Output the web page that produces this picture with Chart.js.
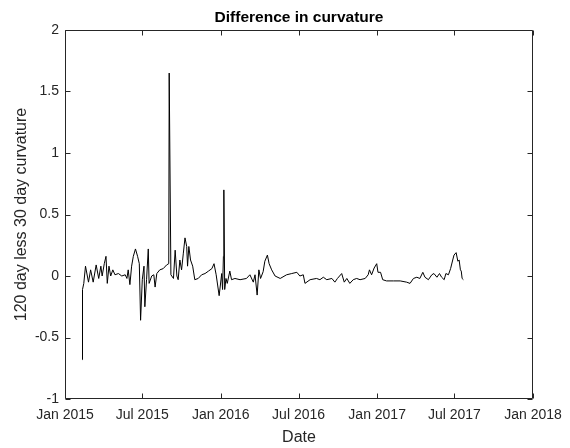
<!DOCTYPE html>
<html>
<head>
<meta charset="utf-8">
<script src="https://cdn.jsdelivr.net/npm/chart.js@4/dist/chart.umd.min.js"></script>
<style>
  html, body { margin: 0; padding: 0; background: #ffffff; }
  #wrap { width: 570px; height: 448px; }
</style>
</head>
<body>
<div id="wrap"><canvas id="c" width="570" height="448"></canvas></div>
<script>
// ---- data ----
// x: days since 1 Jan 2015
const sampleDays = [
  40, 41, 44, 48, 55, 60, 66, 73, 79, 84, 87, 92, 96, 99, 103, 107, 112, 117, 125, 133,
  141, 145, 148, 152, 156, 160, 165, 170, 174, 177, 181, 185, 187, 191, 195, 197, 203, 208, 211, 215,
  222, 230, 238, 243, 244, 248, 254, 258, 262, 265, 269, 273, 277, 281, 285, 287, 290, 294, 299, 304,
  312, 320, 328, 336, 344, 349, 354, 361, 367, 369, 371, 372, 374, 377, 380, 386, 390, 398, 410, 425,
  433, 441, 445, 450, 454, 458, 464, 468, 474, 478, 484, 492, 504, 519, 531, 543, 550, 558, 562, 574,
  589, 597, 605, 613, 625, 632, 638, 648, 654, 660, 667, 675, 683, 691, 703, 710, 713, 718, 724, 730,
  733, 739, 744, 753, 769, 785, 800, 808, 816, 824, 831, 838, 843, 851, 859, 864, 871, 877, 882, 888,
  892, 898, 903, 908, 911, 916, 920, 923, 926, 928, 930, 933
];
const curvatureDiff = [
  -0.68, -0.11, -0.06, 0.08, -0.05, 0.05, -0.05, 0.09, -0.02, 0.08, 0.00, 0.10, 0.16, -0.06, 0.08, 0.00, 0.05, 0.01, 0.02, 0.00,
  0.01, -0.02, 0.05, -0.07, 0.08, 0.16, 0.22, 0.16, 0.10, -0.36, -0.03, 0.08, -0.25, -0.03, 0.22, -0.06, 0.00, 0.01, -0.09, 0.02,
  0.05, 0.06, 0.09, 0.10, 1.65, 0.01, -0.02, 0.21, 0.00, -0.03, 0.13, 0.05, 0.18, 0.31, 0.24, 0.08, 0.24, 0.13, 0.08, -0.03,
  -0.02, 0.01, 0.02, 0.04, 0.06, 0.10, 0.01, -0.16, 0.02, -0.11, 0.16, 0.70, -0.11, -0.02, -0.06, 0.04, -0.03, -0.02, -0.03, -0.02,
  0.01, -0.05, 0.01, -0.155, 0.05, -0.02, 0.035, 0.12, 0.17, 0.10, 0.05, 0.00, -0.02, 0.01, 0.02, 0.03, 0.00, 0.01, -0.06, -0.03,
  -0.02, -0.03, -0.01, -0.03, -0.02, -0.05, -0.02, 0.02, -0.05, -0.02, -0.06, -0.03, -0.02, -0.03, -0.02, 0.01, 0.05, 0.01, 0.065, 0.10,
  0.03, 0.03, -0.03, -0.04, -0.04, -0.04, -0.05, -0.06, -0.02, -0.01, -0.02, 0.03, -0.01, -0.03, 0.01, 0.02, -0.01, 0.02, -0.01, -0.03,
  0.02, 0.01, 0.06, 0.13, 0.17, 0.19, 0.12, 0.13, 0.05, 0.04, -0.02, -0.03
];
const tickDates = ["2015-01-01", "2015-07-01", "2016-01-01", "2016-07-01", "2017-01-01", "2017-07-01", "2018-01-01"];
const tickLabels = ["Jan 2015", "Jul 2015", "Jan 2016", "Jul 2016", "Jan 2017", "Jul 2017", "Jan 2018"];
const yTickValues = [-1, -0.5, 0, 0.5, 1, 1.5, 2];

const chartTitle = "Difference in curvature";
const xTitle = "Date";
const yTitle = "120 day less 30 day curvature";

// ---- helpers ----
const DAY = 86400000;
const ORIGIN = Date.UTC(2015, 0, 1);
function dayOf(s) {
  const p = s.split("-").map(Number);
  return (Date.UTC(p[0], p[1] - 1, p[2]) - ORIGIN) / DAY;
}
const tickDays = tickDates.map(dayOf);
const points = sampleDays.map((d, i) => ({ x: d, y: curvatureDiff[i] }));

const AX = '#262626';
const FONT = "'Liberation Sans', Arial, Helvetica, sans-serif";
Chart.defaults.font.family = FONT;
Chart.defaults.color = AX;

// box + inward tick marks on all four sides (MATLAB style)
const boxPlugin = {
  id: 'matlabBox',
  afterDatasetsDraw(chart) {
    const { ctx, chartArea: a, scales } = chart;
    const L = Math.round(a.left) + 0.5, R = Math.round(a.right) - 0.5;
    const T = Math.round(a.top) + 0.5, B = Math.round(a.bottom) - 0.5;
    const tl = 5;
    ctx.save();
    ctx.strokeStyle = AX;
    ctx.lineWidth = 1;
    ctx.beginPath();
    ctx.rect(L, T, R - L, B - T);
    scales.x.ticks.forEach(t => {
      const px = Math.round(scales.x.getPixelForValue(t.value)) + 0.5;
      ctx.moveTo(px, B); ctx.lineTo(px, B - tl);
      ctx.moveTo(px, T); ctx.lineTo(px, T + tl);
    });
    scales.y.ticks.forEach(t => {
      const py = Math.round(scales.y.getPixelForValue(t.value)) + 0.5;
      ctx.moveTo(L, py); ctx.lineTo(L + tl, py);
      ctx.moveTo(R, py); ctx.lineTo(R - tl, py);
    });
    ctx.stroke();
    ctx.restore();
  }
};

new Chart(document.getElementById('c'), {
  type: 'line',
  data: {
    datasets: [{
      data: points,
      yAxisID: 'y',
      borderColor: '#000000',
      borderWidth: 1,
      pointRadius: 0,
      tension: 0,
      fill: false
    }]
  },
  options: {
    responsive: false,
    animation: false,
    layout: { padding: { left: 28, right: 0, top: 0, bottom: 0 } },
    plugins: {
      legend: { display: false },
      tooltip: { enabled: false },
      title: {
        display: true,
        text: chartTitle,
        color: '#000000',
        font: { family: FONT, size: 15.5, weight: 'bold' },
        padding: { top: 8, bottom: 3.4 }
      }
    },
    scales: {
      x: {
        type: 'linear',
        min: tickDays[0],
        max: tickDays[tickDays.length - 1],
        grid: { display: false, drawTicks: false },
        border: { display: false },
        afterBuildTicks(scale) { scale.ticks = tickDays.map(v => ({ value: v })); },
        afterFit(scale) { scale.height = 49; },
        ticks: {
          autoSkip: false, maxRotation: 0, minRotation: 0,
          padding: 7.5,
          color: AX,
          font: { family: FONT, size: 14 },
          callback: (v, i) => tickLabels[i]
        },
        title: {
          display: true, text: xTitle, color: AX,
          font: { family: FONT, size: 16 },
          padding: { top: 0, bottom: 1 }
        }
      },
      y: {
        type: 'linear',
        position: 'left',
        min: -1, max: 2,
        grid: { display: false, drawTicks: false },
        border: { display: false },
        afterBuildTicks(scale) { scale.ticks = yTickValues.map(v => ({ value: v })); },
        afterFit(scale) { scale.width = 37; },
        ticks: {
          padding: 6,
          color: AX,
          font: { family: FONT, size: 14 },
          callback: v => String(v)
        },
        title: {
          display: true, text: yTitle, color: AX,
          font: { family: FONT, size: 16 },
          padding: { top: -15.6, bottom: 0 }
        }
      },
      yRight: {
        type: 'linear',
        position: 'right',
        min: -1, max: 2,
        grid: { display: false, drawTicks: false },
        border: { display: false },
        ticks: { display: false },
        afterFit(scale) { scale.width = 37; }
      }
    }
  },
  plugins: [boxPlugin]
});
</script>
</body>
</html>
